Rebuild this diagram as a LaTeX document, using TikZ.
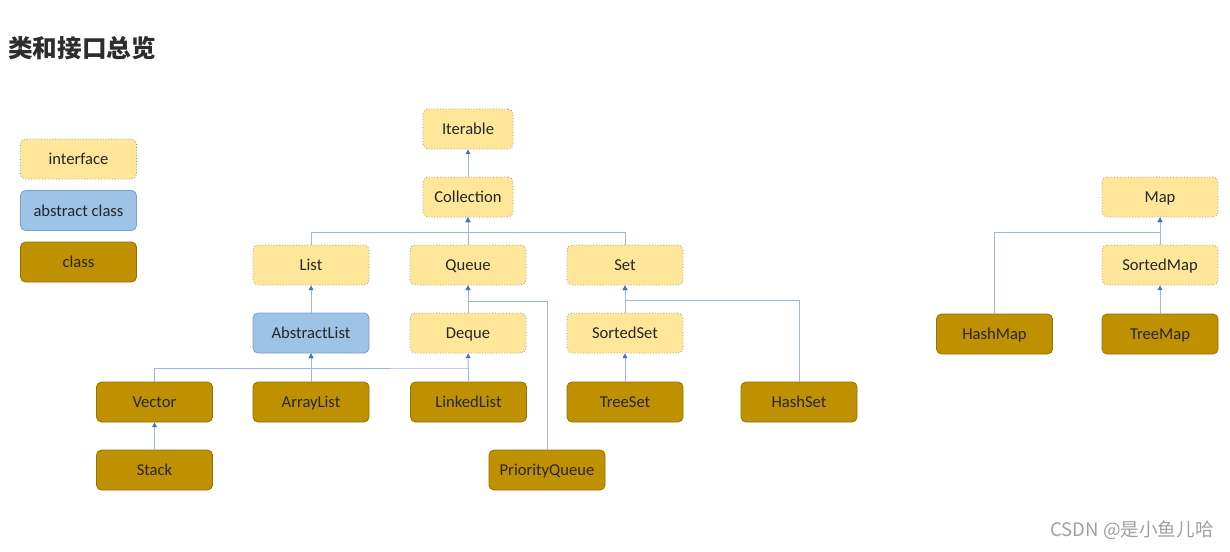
\documentclass[tikz,border=0pt]{standalone}
\usepackage{fontspec}
\setmainfont{Carlito}
\newfontfamily\cjk{Noto Sans CJK SC}
\usetikzlibrary{arrows.meta,calc}
\definecolor{ifaceFill}{RGB}{255,230,153}
\definecolor{ifaceLine}{RGB}{150,150,150}
\definecolor{absFill}{RGB}{157,195,230}
\definecolor{absLine}{RGB}{125,160,200}
\definecolor{clsFill}{RGB}{191,144,0}
\definecolor{clsLine}{RGB}{150,112,0}
\definecolor{linkLine}{RGB}{160,182,222}
\definecolor{linkTip}{RGB}{68,114,196}
\definecolor{titleDark}{RGB}{45,45,45}
\definecolor{markGray}{RGB}{160,160,160}
\tikzset{
  basebox/.style={
    rectangle, rounded corners=2.5pt, minimum width=58pt, minimum height=20pt,
    inner sep=1pt, text height=0.68em, text depth=0.12em,
    text=black!85, font=\fontsize{8.3}{10}\selectfont
  },
  ifacebox/.style={basebox, fill=ifaceFill, draw=ifaceLine, densely dotted, line width=0.4pt},
  absbox/.style={basebox, fill=absFill, draw=absLine, line width=0.4pt},
  clsbox/.style={basebox, fill=clsFill, draw=clsLine, line width=0.4pt},
  inherit/.style={-{Triangle[width=2.4pt,length=2.4pt,color=linkTip]}, draw=linkLine, line width=0.5pt}
}
\begin{document}
\begin{tikzpicture}[x=0.5pt, y=-0.5pt,
          narrow/.style={minimum width=45pt}]
        \useasboundingbox (0,0) rectangle (1230,551);
        \node[anchor=west, inner sep=0pt, text=titleDark, font=\cjk\bfseries\fontsize{12.3}{14}\selectfont] (title) at (8,48) {类和接口总览};
        \node[anchor=east, inner sep=0pt, text=markGray, font=\cjk\fontsize{9.3}{11}\selectfont] (mark) at (1214,530) {CSDN @是小鱼儿哈};
        \node[ifacebox] (kif)  at (78.5,159)   {interface};
        \node[absbox]   (kab)  at (78.5,210.5) {abstract class};
        \node[clsbox]   (kcl)  at (78.5,262)   {class};
        \node[ifacebox, narrow] (iter) at (468,129) {Iterable};
        \node[ifacebox, narrow] (coll) at (468,197) {Collection};
        \node[ifacebox] (list)  at (311,265) {List};
        \node[ifacebox] (queue) at (468,265) {Queue};
        \node[ifacebox] (set)   at (625,265) {Set};
        \node[absbox]   (alist) at (311,333) {AbstractList};
        \node[ifacebox] (deque) at (468,333) {Deque};
        \node[ifacebox] (sset)  at (625,333) {SortedSet};
        \node[clsbox]   (vec)   at (154.5,402) {Vector};
        \node[clsbox]   (alst)  at (311,402)   {ArrayList};
        \node[clsbox]   (llst)  at (468.5,402) {LinkedList};
        \node[clsbox]   (tset)  at (625,402)   {TreeSet};
        \node[clsbox]   (hset)  at (799,402)   {HashSet};
        \node[clsbox]   (stack) at (154.5,470) {Stack};
        \node[clsbox]   (pq)    at (547,470)   {PriorityQueue};
        \node[ifacebox] (map)   at (1160,197)  {Map};
        \node[ifacebox] (smap)  at (1160,265)  {SortedMap};
        \node[clsbox]   (hmap)  at (994.5,334) {HashMap};
        \node[clsbox]   (tmap)  at (1160,334)  {TreeMap};
        \coordinate (cbus) at (468,232);
        \coordinate (lbus) at (468,368);
        \coordinate (qbus) at (468,301);
        \coordinate (sbus) at (625,300);
        \coordinate (mbus) at (1160,232);
        \draw[inherit] (coll)  -- (iter);
        \draw[inherit] (queue) -- (coll);
        \draw[inherit] (list.north) |- (cbus) -- (coll.south);
        \draw[inherit] (set.north)  |- (cbus) -- (coll.south);
        \draw[inherit] (alist) -- (list);
        \draw[inherit] (deque) -- (queue);
        \draw[inherit] (pq.north) |- (qbus) -- (queue.south);
        \draw[inherit] (sset) -- (set);
        \draw[inherit] (hset.north) |- (sbus) -- (set.south);
        \draw[inherit] (tset) -- (sset);
        \draw[inherit] (alst) -- (alist);
        \draw[inherit] (llst) -- (deque);
        \draw[inherit] (vec.north) |- (lbus) -| (alist.south);
        \draw[inherit] (stack) -- (vec);
        \draw[inherit] (smap) -- (map);
        \draw[inherit] (hmap.north) |- (mbus) -- (map.south);
        \draw[inherit] (tmap) -- (smap);
      \end{tikzpicture}
\end{document}
